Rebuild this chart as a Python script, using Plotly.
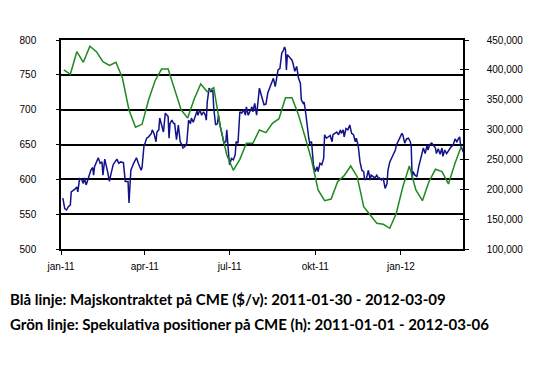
import plotly.graph_objects as go
import pandas as pd

# Blue line: corn futures price on CME, left axis
blue_dates = [
    "2011-01-03", "2011-01-05", "2011-01-07", "2011-01-09", "2011-01-11", "2011-01-12", "2011-01-16", "2011-01-18",
    "2011-01-19", "2011-01-21", "2011-01-23", "2011-01-25", "2011-01-26", "2011-01-28", "2011-01-30", "2011-02-02",
    "2011-02-04", "2011-02-05", "2011-02-06", "2011-02-10", "2011-02-12", "2011-02-14", "2011-02-15", "2011-02-17",
    "2011-02-20", "2011-02-22", "2011-02-23", "2011-02-26", "2011-03-02", "2011-03-04", "2011-03-06", "2011-03-09",
    "2011-03-11", "2011-03-14", "2011-03-15", "2011-03-17", "2011-03-20", "2011-03-23", "2011-03-25", "2011-03-28",
    "2011-03-29", "2011-03-31", "2011-04-03", "2011-04-05", "2011-04-08", "2011-04-09", "2011-04-11", "2011-04-13",
    "2011-04-14", "2011-04-16", "2011-04-17", "2011-04-19", "2011-04-21", "2011-04-23", "2011-04-26", "2011-04-27",
    "2011-04-28", "2011-04-30", "2011-05-02", "2011-05-03", "2011-05-05", "2011-05-07", "2011-05-09", "2011-05-11",
    "2011-05-12", "2011-05-14", "2011-05-16", "2011-05-18", "2011-05-20", "2011-05-21", "2011-05-23", "2011-05-25",
    "2011-05-27", "2011-05-28", "2011-05-30", "2011-06-01", "2011-06-03", "2011-06-05", "2011-06-06", "2011-06-07",
    "2011-06-09", "2011-06-11", "2011-06-13", "2011-06-14", "2011-06-16", "2011-06-18", "2011-06-19", "2011-06-21",
    "2011-06-23", "2011-06-25", "2011-06-27", "2011-06-28", "2011-06-30", "2011-07-01", "2011-07-03", "2011-07-05",
    "2011-07-07", "2011-07-08", "2011-07-10", "2011-07-12", "2011-07-14", "2011-07-16", "2011-07-18", "2011-07-19",
    "2011-07-21", "2011-07-23", "2011-07-25", "2011-07-26", "2011-07-28", "2011-07-30", "2011-08-01", "2011-08-02",
    "2011-08-04", "2011-08-07", "2011-08-09", "2011-08-11", "2011-08-13", "2011-08-15", "2011-08-17", "2011-08-19",
    "2011-08-20", "2011-08-22", "2011-08-24", "2011-08-26", "2011-08-28", "2011-08-29", "2011-08-30", "2011-08-31",
    "2011-09-01", "2011-09-04", "2011-09-06", "2011-09-07", "2011-09-09", "2011-09-11", "2011-09-13", "2011-09-15",
    "2011-09-16", "2011-09-18", "2011-09-19", "2011-09-21", "2011-09-22", "2011-09-24", "2011-09-25", "2011-09-27",
    "2011-09-29", "2011-10-01", "2011-10-03", "2011-10-04", "2011-10-06", "2011-10-08", "2011-10-10", "2011-10-11",
    "2011-10-13", "2011-10-15", "2011-10-17", "2011-10-19", "2011-10-20", "2011-10-22", "2011-10-24", "2011-10-26",
    "2011-10-28", "2011-10-29", "2011-10-31", "2011-11-01", "2011-11-03", "2011-11-05", "2011-11-07", "2011-11-09",
    "2011-11-11", "2011-11-13", "2011-11-14", "2011-11-16", "2011-11-18", "2011-11-20", "2011-11-22", "2011-11-23",
    "2011-11-25", "2011-11-27", "2011-11-29", "2011-11-30", "2011-12-02", "2011-12-04", "2011-12-06", "2011-12-08",
    "2011-12-09", "2011-12-11", "2011-12-13", "2011-12-15", "2011-12-17", "2011-12-18", "2011-12-20", "2011-12-22",
    "2011-12-24", "2011-12-26", "2011-12-27", "2011-12-29", "2011-12-31", "2012-01-02", "2012-01-03", "2012-01-05",
    "2012-01-07", "2012-01-09", "2012-01-11", "2012-01-12", "2012-01-13", "2012-01-14", "2012-01-16", "2012-01-18",
    "2012-01-20", "2012-01-21", "2012-01-23", "2012-01-25", "2012-01-27", "2012-01-29", "2012-01-30", "2012-02-01",
    "2012-02-03", "2012-02-05", "2012-02-07", "2012-02-08", "2012-02-10", "2012-02-12", "2012-02-14", "2012-02-15",
    "2012-02-17", "2012-02-19", "2012-02-21", "2012-02-23", "2012-02-24", "2012-02-26", "2012-02-28", "2012-03-01",
    "2012-03-03", "2012-03-04", "2012-03-05", "2012-03-07", "2012-03-08",
]
blue_values = [
    573, 558, 556, 561, 563, 582, 586, 589,
    582, 601, 600, 594, 602, 592, 600, 613,
    617, 606, 618, 631, 623, 625, 606, 629,
    611, 597, 604, 621, 629, 623, 625, 624,
    597, 597, 566, 613, 623, 631, 623, 613,
    617, 647, 659, 661, 666, 671, 665, 654,
    668, 671, 688, 678, 668, 695, 690, 659,
    680, 685, 680, 680, 657, 678, 654, 649,
    645, 647, 652, 685, 680, 688, 682, 690,
    698, 692, 700, 692, 697, 692, 685, 711,
    731, 726, 728, 702, 678, 680, 692, 676,
    664, 652, 654, 671, 635, 621, 630, 628,
    635, 654, 652, 697, 695, 700, 692, 704,
    692, 697, 704, 697, 709, 692, 714, 731,
    721, 707, 708, 724, 731, 738, 745, 733,
    743, 757, 759, 781, 786, 790, 786, 757,
    779, 774, 771, 767, 755, 762, 745, 738,
    714, 709, 711, 692, 678, 659, 652, 654,
    621, 611, 618, 611, 623, 621, 630, 664,
    659, 661, 663, 654, 664, 666, 668, 664,
    671, 666, 671, 661, 673, 671, 678, 666,
    664, 654, 659, 649, 625, 613, 611, 599,
    602, 613, 599, 606, 604, 602, 606, 601,
    602, 599, 601, 587, 594, 613, 625, 630,
    637, 642, 649, 654, 661, 666, 664, 652,
    658, 659, 654, 647, 602, 611, 606, 604,
    618, 623, 633, 645, 637, 649, 642, 650,
    652, 649, 645, 637, 644, 636, 645, 633,
    642, 637, 642, 645, 647, 649, 658, 654,
    659, 661, 649, 642, 639,
]

# Green line: speculative positions on CME (contracts), weekly (Tuesdays), right axis
green_start = "2011-01-04"
green_values = [
    400000, 392600, 430400, 412700, 439500, 430400, 413700, 407600,
    412700, 385900, 332800, 303800, 308800, 349500, 381800, 401400,
    401400, 366300, 332800, 319400, 351200, 376300, 363400, 370100,
    304800, 257400, 231800, 250200, 277000, 277000, 299300, 294800,
    310500, 318200, 353400, 353400, 324400, 288100, 249000, 198800,
    180900, 183700, 212700, 222800, 239000, 221100, 170800, 156900,
    143000, 141400, 134700, 159800, 204300, 239000, 198800, 180900,
    212700, 233500, 229500, 208900, 243500, 273000,
]
green_dates = pd.date_range(green_start, periods=len(green_values), freq="7D")

x_tickvals = ["2011-01-01", "2011-04-01", "2011-07-01", "2011-10-01", "2012-01-01"]
x_ticktext = ["jan-11", "apr-11", "jul-11", "okt-11", "jan-12"]

caption_lines = [
    "Blå linje: Majskontraktet på CME ($/v): 2011-01-30 - 2012-03-09",
    "Grön linje: Spekulativa positioner på CME (h): 2011-01-01 - 2012-03-06",
]

BLUE = "#12128a"
GREEN = "#1f8a1f"
tick_font = dict(family="Liberation Sans, Arial, sans-serif", size=10, color="#000000")

# page body has an 8px margin: the figure is placed at (8, 8) in the window
OFF = 8
PL, PR, PT, PB = 61, 463, 40, 249  # plot-area edges in window pixels

fig = go.Figure()
fig.add_trace(go.Scatter(x=blue_dates, y=blue_values, mode="lines", yaxis="y",
                         line=dict(color=BLUE, width=1.5), showlegend=False, hoverinfo="skip"))
fig.add_trace(go.Scatter(x=green_dates, y=green_values, mode="lines", yaxis="y2",
                         line=dict(color=GREEN, width=1.5), showlegend=False, hoverinfo="skip"))
# empty trace so the right-axis inside tick marks get drawn
fig.add_trace(go.Scatter(x=[None], y=[None], yaxis="y3", showlegend=False, hoverinfo="skip"))

fig.update_layout(
    width=550 - OFF, height=372 - OFF,
    margin=dict(l=PL - OFF, r=550 - PR, t=PT - OFF, b=372 - PB, autoexpand=False),
    paper_bgcolor="white", plot_bgcolor="white",
    xaxis=dict(type="date", range=["2011-01-01", "2012-03-07 14:00"], automargin=False,
               tickvals=x_tickvals, ticktext=x_ticktext, tickfont=tick_font,
               ticks="outside", ticklen=4, tickcolor="black", ticklabelstandoff=3,
               showline=True, linecolor="black", linewidth=1.5, mirror=True,
               showgrid=False, zeroline=False),
    yaxis=dict(range=[500, 800], dtick=50, tickfont=tick_font, automargin=False,
               ticks="outside", ticklen=3, tickcolor="black", ticklabelstandoff=18,
               showline=True, linecolor="black", linewidth=1.5,
               showgrid=True, gridcolor="black", gridwidth=1.5, zeroline=False),
    yaxis2=dict(overlaying="y", side="right", anchor="x", range=[100000, 450000], dtick=50000,
                tickformat=",", tickfont=tick_font, automargin=False,
                ticks="outside", ticklen=4, tickcolor="black", ticklabelstandoff=16,
                showline=True, linecolor="black", linewidth=1.5,
                showgrid=False, zeroline=False),
    yaxis3=dict(overlaying="y", side="right", anchor="x", range=[100000, 450000], dtick=50000,
                showticklabels=False, ticks="inside", ticklen=3, tickcolor="black", automargin=False,
                showline=False, showgrid=False, zeroline=False),
)

cap_font = dict(family="Lato, Liberation Sans, Arial, sans-serif", size=15, color="#000000")
for i, line in enumerate(caption_lines):
    fig.add_annotation(text="<b>" + line + "</b>", xref="paper", yref="paper",
                       x=(8 - PL) / (PR - PL), y=(PB - (310 + 25 * i)) / (PB - PT),
                       xanchor="left", yanchor="bottom", showarrow=False, font=cap_font)

fig.write_html("out.html")
